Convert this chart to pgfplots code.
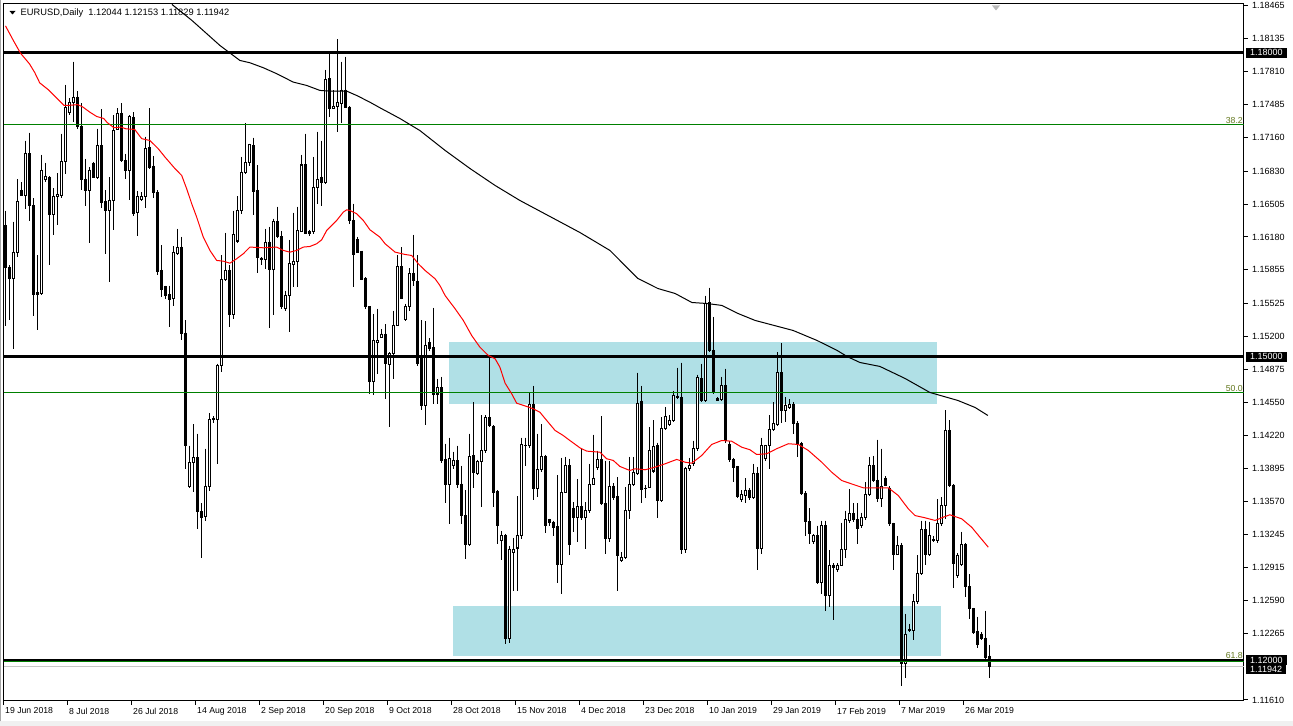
\documentclass[border=0pt]{standalone}
\usepackage{fontspec}
\setmainfont{Liberation Sans}
\usepackage{pgfplots}
\usepackage{pgfplotstable}
\pgfplotsset{compat=1.18}
\definecolor{boxblue}{RGB}{176,224,230}
\definecolor{fibgreen}{RGB}{0,128,0}
\definecolor{fiblabel}{RGB}{100,120,30}
\newcommand\chartfont{\fontsize{8.7}{10}\selectfont}
\newcommand\scalefont{\fontsize{9}{10}\selectfont}

\pgfplotstableread{
i o h l c
0 1.1629 1.1644 1.1530 1.1588
1 1.1588 1.1590 1.1536 1.1577
2 1.1577 1.1633 1.1507 1.1603
3 1.1603 1.1675 1.1598 1.1653
4 1.1664 1.1672 1.1659 1.1659
5 1.1659 1.1713 1.1646 1.1700
6 1.1700 1.1721 1.1634 1.1649
7 1.1649 1.1656 1.1540 1.1561
8 1.1563 1.1600 1.1526 1.1561
9 1.1562 1.1699 1.1561 1.1684
10 1.1675 1.1691 1.1672 1.1678
11 1.1677 1.1678 1.1590 1.1640
12 1.1640 1.1666 1.1620 1.1658
13 1.1658 1.1681 1.1630 1.1660
14 1.1659 1.1720 1.1656 1.1692
15 1.1692 1.1768 1.1680 1.1746
16 1.1741 1.1755 1.1738 1.1751
17 1.1751 1.1791 1.1731 1.1756
18 1.1756 1.1762 1.1725 1.1727
19 1.1727 1.1750 1.1664 1.1675
20 1.1675 1.1695 1.1649 1.1664
21 1.1664 1.1687 1.1612 1.1684
22 1.1690 1.1692 1.1676 1.1677
23 1.1677 1.1725 1.1675 1.1708
24 1.1708 1.1744 1.1647 1.1652
25 1.1653 1.1664 1.1601 1.1644
26 1.1644 1.1677 1.1574 1.1654
27 1.1654 1.1738 1.1625 1.1723
28 1.1724 1.1745 1.1724 1.1740
29 1.1740 1.1750 1.1692 1.1693
30 1.1693 1.1700 1.1675 1.1684
31 1.1684 1.1738 1.1654 1.1737
32 1.1736 1.1741 1.1639 1.1641
33 1.1642 1.1663 1.1619 1.1658
34 1.1655 1.1662 1.1653 1.1658
35 1.1658 1.1717 1.1647 1.1705
36 1.1706 1.1745 1.1685 1.1687
37 1.1688 1.1698 1.1656 1.1662
38 1.1662 1.1664 1.1580 1.1584
39 1.1585 1.1610 1.1559 1.1566
40 1.1569 1.1570 1.1557 1.1560
41 1.1561 1.1570 1.1529 1.1556
42 1.1557 1.1609 1.1550 1.1603
43 1.1602 1.1626 1.1600 1.1608
44 1.1608 1.1618 1.1516 1.1523
45 1.1523 1.1536 1.1389 1.1412
46 1.1372 1.1412 1.1370 1.1395
47 1.1395 1.1433 1.1366 1.1400
48 1.1400 1.1424 1.1330 1.1347
49 1.1347 1.1355 1.1301 1.1341
50 1.1342 1.1409 1.1338 1.1372
51 1.1372 1.1444 1.1367 1.1438
52 1.1438 1.1441 1.1434 1.1439
53 1.1438 1.1493 1.1394 1.1491
54 1.1491 1.1600 1.1485 1.1576
55 1.1576 1.1622 1.1575 1.1585
56 1.1585 1.1590 1.1529 1.1541
57 1.1541 1.1644 1.1537 1.1620
58 1.1614 1.1658 1.1612 1.1644
59 1.1644 1.1697 1.1641 1.1682
60 1.1682 1.1730 1.1680 1.1691
61 1.1691 1.1710 1.1688 1.1709
62 1.1708 1.1716 1.1640 1.1663
63 1.1664 1.1689 1.1582 1.1598
64 1.1597 1.1598 1.1590 1.1596
65 1.1596 1.1626 1.1586 1.1613
66 1.1613 1.1628 1.1528 1.1586
67 1.1586 1.1636 1.1541 1.1633
68 1.1633 1.1648 1.1617 1.1618
69 1.1618 1.1624 1.1547 1.1549
70 1.1547 1.1565 1.1545 1.1560
71 1.1560 1.1615 1.1524 1.1592
72 1.1591 1.1642 1.1569 1.1594
73 1.1594 1.1648 1.1569 1.1624
74 1.1623 1.1699 1.1623 1.1689
75 1.1689 1.1720 1.1621 1.1621
76 1.1623 1.1625 1.1619 1.1621
77 1.1623 1.1697 1.1621 1.1667
78 1.1667 1.1722 1.1651 1.1675
79 1.1677 1.1713 1.1649 1.1672
80 1.1672 1.1783 1.1670 1.1773
81 1.1774 1.1801 1.1736 1.1745
82 1.1745 1.1763 1.1744 1.1747
83 1.1747 1.1813 1.1722 1.1751
84 1.1750 1.1791 1.1730 1.1763
85 1.1763 1.1796 1.1745 1.1746
86 1.1746 1.1747 1.1631 1.1634
87 1.1634 1.1651 1.1569 1.1601
88 1.1615 1.1618 1.1603 1.1603
89 1.1604 1.1604 1.1576 1.1576
90 1.1577 1.1578 1.1547 1.1549
91 1.1549 1.1549 1.1463 1.1475
92 1.1475 1.1542 1.1462 1.1516
93 1.1514 1.1547 1.1483 1.1516
94 1.1519 1.1527 1.1518 1.1522
95 1.1522 1.1532 1.1458 1.1493
96 1.1492 1.1504 1.1430 1.1503
97 1.1503 1.1545 1.1478 1.1531
98 1.1531 1.1600 1.1531 1.1589
99 1.1589 1.1608 1.1557 1.1557
100 1.1537 1.1552 1.1535 1.1549
101 1.1549 1.1587 1.1545 1.1582
102 1.1582 1.1620 1.1570 1.1575
103 1.1574 1.1600 1.1491 1.1493
104 1.1499 1.1536 1.1447 1.1452
105 1.1452 1.1535 1.1432 1.1511
106 1.1514 1.1518 1.1505 1.1508
107 1.1509 1.1548 1.1453 1.1463
108 1.1463 1.1478 1.1453 1.1469
109 1.1469 1.1480 1.1395 1.1397
110 1.1398 1.1414 1.1355 1.1374
111 1.1374 1.1420 1.1335 1.1399
112 1.1392 1.1406 1.1389 1.1397
113 1.1397 1.1412 1.1370 1.1374
114 1.1374 1.1392 1.1335 1.1343
115 1.1343 1.1368 1.1300 1.1314
116 1.1314 1.1424 1.1313 1.1401
117 1.1402 1.1455 1.1370 1.1386
118 1.1385 1.1398 1.1383 1.1396
119 1.1396 1.1442 1.1351 1.1407
120 1.1407 1.1442 1.1405 1.1440
121 1.1440 1.1499 1.1430 1.1432
122 1.1431 1.1432 1.1351 1.1366
123 1.1367 1.1368 1.1315 1.1333
124 1.1318 1.1328 1.1299 1.1323
125 1.1323 1.1325 1.1216 1.1222
126 1.1222 1.1313 1.1217 1.1310
127 1.1307 1.1321 1.1269 1.1310
128 1.1311 1.1362 1.1269 1.1323
129 1.1323 1.1420 1.1320 1.1413
130 1.1412 1.1420 1.1392 1.1412
131 1.1412 1.1464 1.1410 1.1453
132 1.1453 1.1471 1.1358 1.1370
133 1.1370 1.1424 1.1361 1.1388
134 1.1388 1.1433 1.1386 1.1401
135 1.1401 1.1403 1.1326 1.1333
136 1.1339 1.1340 1.1333 1.1336
137 1.1336 1.1338 1.1323 1.1331
138 1.1332 1.1383 1.1276 1.1295
139 1.1295 1.1400 1.1266 1.1366
140 1.1366 1.1401 1.1365 1.1392
141 1.1392 1.1399 1.1304 1.1314
142 1.1350 1.1356 1.1327 1.1341
143 1.1341 1.1379 1.1317 1.1352
144 1.1352 1.1409 1.1339 1.1341
145 1.1341 1.1356 1.1310 1.1348
146 1.1348 1.1394 1.1346 1.1374
147 1.1374 1.1423 1.1373 1.1380
148 1.1390 1.1407 1.1388 1.1398
149 1.1398 1.1441 1.1353 1.1355
150 1.1355 1.1397 1.1305 1.1320
151 1.1320 1.1397 1.1317 1.1372
152 1.1372 1.1375 1.1358 1.1361
153 1.1362 1.1381 1.1269 1.1304
154 1.1299 1.1307 1.1297 1.1302
155 1.1302 1.1371 1.1300 1.1348
156 1.1348 1.1401 1.1340 1.1374
157 1.1374 1.1401 1.1372 1.1386
158 1.1385 1.1484 1.1383 1.1454
159 1.1456 1.1471 1.1355 1.1369
160 1.1370 1.1373 1.1360 1.1370
161 1.1371 1.1430 1.1370 1.1407
162 1.1387 1.1437 1.1385 1.1411
163 1.1412 1.1415 1.1341 1.1358
164 1.1358 1.1440 1.1356 1.1429
165 1.1429 1.1450 1.1427 1.1441
166 1.1433 1.1442 1.1431 1.1437
167 1.1437 1.1466 1.1435 1.1462
168 1.1461 1.1489 1.1458 1.1460
169 1.1460 1.1494 1.1305 1.1310
170 1.1310 1.1391 1.1306 1.1389
171 1.1389 1.1400 1.1387 1.1392
172 1.1394 1.1417 1.1392 1.1409
173 1.1409 1.1482 1.1407 1.1479
174 1.1478 1.1493 1.1455 1.1457
175 1.1457 1.1560 1.1455 1.1552
176 1.1553 1.1568 1.1504 1.1506
177 1.1506 1.1539 1.1463 1.1465
178 1.1459 1.1460 1.1456 1.1457
179 1.1458 1.1480 1.1456 1.1471
180 1.1471 1.1488 1.1415 1.1417
181 1.1413 1.1417 1.1396 1.1398
182 1.1398 1.1400 1.1376 1.1390
183 1.1391 1.1392 1.1360 1.1362
184 1.1359 1.1368 1.1356 1.1364
185 1.1363 1.1380 1.1355 1.1368
186 1.1368 1.1370 1.1358 1.1361
187 1.1361 1.1394 1.1359 1.1385
188 1.1385 1.1391 1.1289 1.1311
189 1.1311 1.1420 1.1305 1.1412
190 1.1399 1.1413 1.1397 1.1412
191 1.1412 1.1442 1.1389 1.1428
192 1.1428 1.1455 1.1426 1.1434
193 1.1433 1.1504 1.1431 1.1484
194 1.1484 1.1513 1.1434 1.1447
195 1.1447 1.1460 1.1435 1.1452
196 1.1450 1.1458 1.1448 1.1453
197 1.1453 1.1455 1.1424 1.1434
198 1.1434 1.1436 1.1401 1.1414
199 1.1414 1.1416 1.1363 1.1365
200 1.1365 1.1367 1.1323 1.1337
201 1.1337 1.1350 1.1315 1.1325
202 1.1317 1.1325 1.1315 1.1323
203 1.1323 1.1333 1.1275 1.1277
204 1.1277 1.1338 1.1266 1.1333
205 1.1333 1.1338 1.1249 1.1264
206 1.1264 1.1309 1.1253 1.1294
207 1.1294 1.1296 1.1240 1.1292
208 1.1290 1.1296 1.1287 1.1294
209 1.1294 1.1336 1.1293 1.1310
210 1.1310 1.1348 1.1301 1.1339
211 1.1338 1.1369 1.1336 1.1345
212 1.1345 1.1355 1.1337 1.1339
213 1.1339 1.1355 1.1315 1.1330
214 1.1333 1.1346 1.1331 1.1341
215 1.1341 1.1376 1.1339 1.1364
216 1.1364 1.1401 1.1362 1.1392
217 1.1392 1.1402 1.1376 1.1378
218 1.1378 1.1418 1.1356 1.1360
219 1.1360 1.1409 1.1351 1.1372
220 1.1380 1.1382 1.1372 1.1373
221 1.1370 1.1372 1.1333 1.1335
222 1.1335 1.1336 1.1289 1.1305
223 1.1305 1.1323 1.1304 1.1313
224 1.1313 1.1316 1.1175 1.1197
225 1.1197 1.1246 1.1183 1.1226
226 1.1230 1.1236 1.1228 1.1231
227 1.1230 1.1266 1.1220 1.1258
228 1.1258 1.1304 1.1256 1.1286
229 1.1286 1.1338 1.1284 1.1329
230 1.1329 1.1338 1.1294 1.1305
231 1.1305 1.1337 1.1303 1.1323
232 1.1319 1.1323 1.1317 1.1318
233 1.1318 1.1359 1.1316 1.1335
234 1.1335 1.1361 1.1333 1.1353
235 1.1353 1.1447 1.1340 1.1427
236 1.1427 1.1437 1.1371 1.1373
237 1.1373 1.1374 1.1272 1.1296
238 1.1284 1.1306 1.1281 1.1304
239 1.1295 1.1327 1.1293 1.1314
240 1.1314 1.1316 1.1263 1.1273
241 1.1273 1.1285 1.1241 1.1251
242 1.1251 1.1252 1.1226 1.1228
243 1.1229 1.1243 1.1212 1.1216
244 1.1226 1.1228 1.1220 1.1222
245 1.1222 1.1249 1.1201 1.1203
246 1.12044 1.12153 1.11829 1.11942
}\candles

\pgfplotstableread{
x y
0 1.18263
2.1 1.18109
3.8 1.17991
6.0 1.17888
7.3 1.17803
8.55 1.17701
10.7 1.17633
12.9 1.17547
14.6 1.17479
15.9 1.17479
18.05 1.17486
19.35 1.17462
21.1 1.17411
22.8 1.17369
24.55 1.17349
25.4 1.17310
27.1 1.17258
28.9 1.17264
30.1 1.17247
32.3 1.17241
34.05 1.17150
36.1 1.17132
38.2 1.17050
39.9 1.16967
42.4 1.16853
44.05 1.16787
45.3 1.16655
46.55 1.16508
47.8 1.16375
49.45 1.16178
51.1 1.16047
52.8 1.15948
54.45 1.15941
56.1 1.15921
57.8 1.15965
59.45 1.16014
61.1 1.16080
64.45 1.16073
67.8 1.16080
69.45 1.16047
71.1 1.16030
72.8 1.16047
74.45 1.16080
76.1 1.16086
77.8 1.16113
79.05 1.16152
80.3 1.16244
82.8 1.16343
84.45 1.16425
85.3 1.16448
86.1 1.16441
87.8 1.16409
89.45 1.16343
91.1 1.16251
93.6 1.16178
94.9 1.16113
97.4 1.16030
99.9 1.16007
101.55 1.15997
103.2 1.15915
104.9 1.15849
107.4 1.15767
108.6 1.15701
109.9 1.15602
112.4 1.15471
114.45 1.15356
116.55 1.15207
118.6 1.15092
120.7 1.15010
122.4 1.14978
123.6 1.14895
124.9 1.14737
126.55 1.14632
127.8 1.14539
130.3 1.14507
131.95 1.14484
133.6 1.14450
135.3 1.14369
137.4 1.14270
139.45 1.14220
141.1 1.14171
143.6 1.14099
145.3 1.14066
148.6 1.14056
150.3 1.13991
151.95 1.13974
153.6 1.13915
156.1 1.13875
157.4 1.13892
159.9 1.13882
162.4 1.13908
164.9 1.13941
167.8 1.13984
169.9 1.13957
171.55 1.13947
174.05 1.14023
176.55 1.14132
179.05 1.14171
181.55 1.14164
184.05 1.14105
186.1 1.14080
187.8 1.14033
190.3 1.14040
192.8 1.14090
195.7 1.14139
198.2 1.14132
200.7 1.14073
204.05 1.13957
206.55 1.13858
209.05 1.13776
211.95 1.13737
214.45 1.13704
217.4 1.13704
220.7 1.13704
223.2 1.13628
225.7 1.13497
227.4 1.13430
229.9 1.13408
232.4 1.13382
234.05 1.13408
236.1 1.13438
239.05 1.13398
241.55 1.13315
243.6 1.13217
245.7 1.13118
}\redma

\pgfplotstableread{
x y
41.6 1.18475
46.6 1.18317
53.6 1.18070
58.6 1.17922
61.1 1.17899
64.45 1.17850
67.8 1.17791
71.95 1.17708
75.3 1.17675
78.6 1.17626
81.1 1.17619
85.3 1.17619
87.8 1.17576
91.1 1.17510
93.6 1.17455
98.6 1.17349
103.6 1.17230
109.9 1.17034
116.1 1.16856
122.4 1.16688
128.6 1.16540
136.1 1.16382
143.6 1.16224
151.1 1.16047
158.1 1.15770
163.1 1.15671
167.4 1.15622
171.6 1.15533
175.4 1.15523
179.1 1.15504
183.1 1.15425
187.4 1.15356
196.9 1.15257
202.9 1.15158
207.9 1.15060
210.4 1.15000
213.6 1.14941
218.6 1.14902
224.9 1.14783
231.1 1.14645
238.1 1.14566
242.4 1.14497
245.6 1.14418
}\slowma

\begin{document}
\begin{tikzpicture}[x=1pt,y=1pt]
\fill[white] (-4,-25) rectangle (1289,700);
\fill[gray!12] (-4,-25) rectangle (1289,-21);
\draw[gray!70, line width=1pt] (-3.5,-21) -- (-3.5,700);
\begin{axis}[
  at={(0,0)}, anchor=south west,
  width=1240pt, height=697pt, scale only axis,
  xmin=-0.375, xmax=309.625, ymin=1.11605, ymax=1.18484,
  clip mode=individual,
  axis line style={black, line width=1pt},
  tick align=outside, major tick length=4pt,
  tick style={black, line width=1pt},
  xtick pos=lower, ytick pos=upper, yticklabel pos=upper,
  xtick={-0.375,15.625,...,239.625},
  xticklabels={19 Jun 2018, 8 Jul 2018, 26 Jul 2018, 14 Aug 2018, 2 Sep 2018, 20 Sep 2018, 9 Oct 2018, 28 Oct 2018, 15 Nov 2018, 4 Dec 2018, 23 Dec 2018, 10 Jan 2019, 29 Jan 2019, 17 Feb 2019, 7 Mar 2019, 26 Mar 2019},
  xticklabel style={font=\chartfont, anchor=north west, inner sep=0pt, xshift=1pt, yshift=-3pt},
  ytick={1.11610,1.12265,1.12590,1.12915,1.13245,1.13570,1.13895,1.14220,1.14550,1.14875,1.15200,1.15525,1.15855,1.16180,1.16505,1.16830,1.17160,1.17485,1.17810,1.18135,1.18465},
  yticklabels={1.11610,1.12265,1.12590,1.12915,1.13245,1.13570,1.13895,1.14220,1.14550,1.14875,1.15200,1.15525,1.15855,1.16180,1.16505,1.16830,1.17160,1.17485,1.17810,1.18135,1.18465},
  yticklabel style={font=\scalefont, anchor=west, inner sep=0pt, xshift=4pt},
]
% background boxes
\fill[boxblue] (axis cs:110.875,1.14531) rectangle (axis cs:232.875,1.15148);
\fill[boxblue] (axis cs:111.875,1.12040) rectangle (axis cs:233.875,1.12533);

% current price line
\addplot[gray!45, line width=1pt, forget plot] coordinates {(-0.375,1.11942) (309.625,1.11942)};

% wicks
\addplot[black, only marks, mark=*, mark size=0pt, mark options={draw=none,fill=none}, forget plot,
  error bars/.cd, y dir=minus, y explicit, error mark=none,
  error bar style={line width=1pt, black}]
  table[x=i, y=h, y error minus expr={\thisrow{h}-\thisrow{l}}] {\candles};
% bodies outer
\addplot[black, only marks, mark=*, mark size=0pt, mark options={draw=none,fill=none}, forget plot,
  error bars/.cd, y dir=minus, y explicit, error mark=none,
  error bar style={line width=3pt, black}]
  table[x=i, y expr={max(\thisrow{o},\thisrow{c})+0.00005}, y error minus expr={abs(\thisrow{o}-\thisrow{c})+0.0001}] {\candles};
% bodies inner (bullish)
\addplot[black, only marks, mark=*, mark size=0pt, mark options={draw=none,fill=none}, forget plot,
  error bars/.cd, y dir=minus, y explicit, error mark=none,
  error bar style={line width=1pt, white}]
  table[x=i, y expr={\thisrow{c}-0.00005}, y error minus expr={max(\thisrow{c}-\thisrow{o}-0.0001,0)}] {\candles};

% horizontal levels
\addplot[black, line width=3pt, forget plot] coordinates {(-0.375,1.18) (309.625,1.18)};
\addplot[black, line width=3pt, forget plot] coordinates {(-0.375,1.15) (309.625,1.15)};
\addplot[black, line width=1.6pt, forget plot] coordinates {(-0.375,1.12005) (309.625,1.12005)};
\addplot[fibgreen, line width=1pt, forget plot] coordinates {(-0.375,1.17290) (309.625,1.17290)};
\addplot[fibgreen, line width=1pt, forget plot] coordinates {(-0.375,1.14645) (309.625,1.14645)};
\addplot[fibgreen, line width=1pt, forget plot] coordinates {(-0.375,1.11985) (309.625,1.11985)};

% moving averages
\addplot[red, line width=1pt, forget plot] table[x=x,y=y] {\redma};
\addplot[black, line width=1pt, forget plot] table[x=x,y=y] {\slowma};

% fib labels
\node[anchor=south east, font=\chartfont, text=fiblabel, inner sep=1pt] at (axis cs:309.625,1.17290) {38.2};
\node[anchor=south east, font=\chartfont, text=fiblabel, inner sep=1pt] at (axis cs:309.625,1.14645) {50.0};
\node[anchor=south east, font=\chartfont, text=fiblabel, inner sep=1pt] at (axis cs:309.625,1.12005) {61.8};

% price boxes on the scale
\node[anchor=west, fill=black, text=white, font=\scalefont, inner xsep=4pt, inner ysep=0.5pt, minimum height=9pt, xshift=2pt, yshift=-3pt] at (axis cs:309.625,1.11942) {1.11942};
\node[anchor=west, fill=black, text=white, font=\scalefont, inner xsep=4pt, inner ysep=0.5pt, minimum height=10pt, xshift=2pt] at (axis cs:309.625,1.12000) {1.12000};
\node[anchor=west, fill=black, text=white, font=\scalefont, inner xsep=4pt, inner ysep=0.5pt, minimum height=10pt, xshift=2pt] at (axis cs:309.625,1.15000) {1.15000};
\node[anchor=west, fill=black, text=white, font=\scalefont, inner xsep=4pt, inner ysep=0.5pt, minimum height=10pt, xshift=2pt] at (axis cs:309.625,1.18000) {1.18000};
\end{axis}
% title and markers
\fill[black] (5.5,689.5) -- (11.5,689.5) -- (8.5,686) -- cycle;
\node[anchor=west, font=\fontsize{9.3}{10}\selectfont, inner sep=0pt] at (16.5,687.5) {EURUSD,Daily\ \ 1.12044 1.12153 1.11829 1.11942};
\fill[gray!55] (988,695) -- (996,695) -- (992,690) -- cycle;
\path (-4,-25) rectangle (1289,700);
\end{tikzpicture}
\end{document}
